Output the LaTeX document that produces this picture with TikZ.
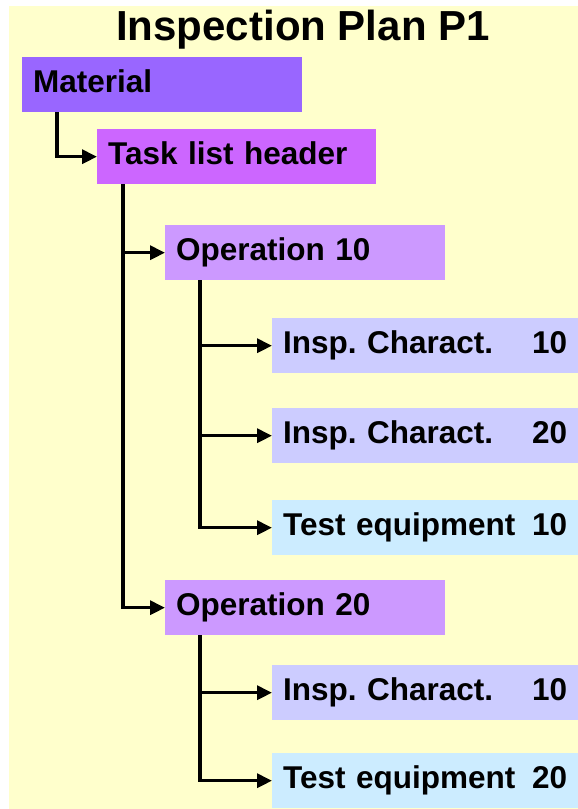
\documentclass[tikz,border=0pt]{standalone}
\usepackage{fontspec}
\setmainfont{Liberation Sans}
\usetikzlibrary{arrows.meta}
\definecolor{sfondo}{HTML}{FFFFCC}
\definecolor{colmat}{HTML}{9966FF}
\definecolor{coltask}{HTML}{CC66FF}
\definecolor{colop}{HTML}{CC99FF}
\definecolor{colinsp}{HTML}{CCCCFF}
\definecolor{coltest}{HTML}{CCECFF}
\frenchspacing
\begin{document}
\begin{tikzpicture}[x=1pt,y=-1pt,
    box/.style={anchor=north west, rectangle, inner xsep=11pt, inner ysep=0pt,
        minimum height=55pt, text height=23pt, text depth=6.5pt, align=left,
        font=\fontsize{31.5}{36}\selectfont\bfseries, text width=#1},
    freccia/.style={line width=3.3pt, -{Triangle[length=15pt,width=14pt]}}]
            \useasboundingbox (0,0) rectangle (578,809);
            \fill[sfondo] (9,6) rectangle (578,809);

            %titolo
            \node[anchor=base, font=\fontsize{42}{48}\selectfont\bfseries] (titolo) at (303,40) {Inspection Plan P1};

            %blocchi
            \node[box=258pt, fill=colmat] (mat) at (22,57) {Material};
            \node[box=257pt, fill=coltask] (tlh) at (97,129) {Task list header};
            \node[box=258pt, fill=colop] (op10) at (165,225) {Operation 10};
            \node[box=284pt, fill=colinsp] (ic10) at (272,318) {Insp. Charact.\hfill 10\hspace*{5pt}};
            \node[box=284pt, fill=colinsp] (ic20) at (272,408) {Insp. Charact.\hfill 20\hspace*{5pt}};
            \node[box=284pt, fill=coltest] (te10) at (272,500) {Test equipment\hfill 10};
            \node[box=258pt, fill=colop] (op20) at (165,580) {Operation 20};
            \node[box=284pt, fill=colinsp] (ic30) at (272,665) {Insp. Charact.\hfill 10\hspace*{5pt}};
            \node[box=284pt, fill=coltest] (te20) at (272,753) {Test equipment\hfill 20};

            %collegamenti
            \draw[freccia] ([xshift=35pt]mat.south west) |- (tlh.west);
            \draw[freccia] ([xshift=26pt]tlh.south west) |- (op10.west);
            \draw[freccia] ([xshift=26pt]tlh.south west) |- (op20.west);
            \draw[freccia] ([xshift=35pt]op10.south west) |- (ic10.west);
            \draw[freccia] ([xshift=35pt]op10.south west) |- (ic20.west);
            \draw[freccia] ([xshift=35pt]op10.south west) |- (te10.west);
            \draw[freccia] ([xshift=35pt]op20.south west) |- (ic30.west);
            \draw[freccia] ([xshift=35pt]op20.south west) |- (te20.west);
\end{tikzpicture}
\end{document}
